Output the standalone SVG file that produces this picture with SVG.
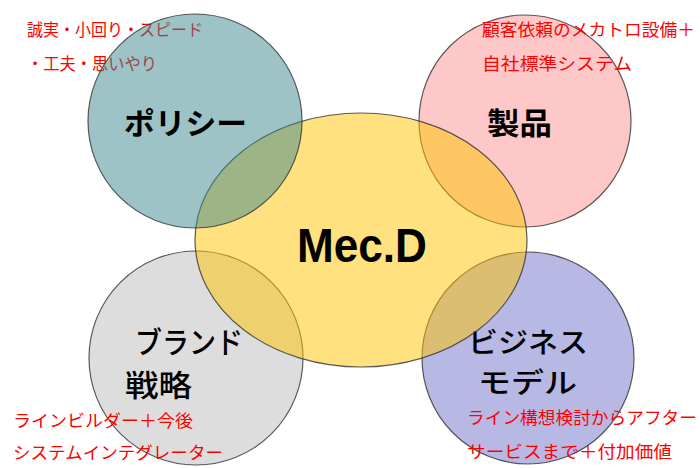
<svg xmlns="http://www.w3.org/2000/svg" width="700" height="468" viewBox="0 0 700 468">
<style>
.c{stroke:#333;stroke-width:1.2;stroke-opacity:0.8}
.note{font-family:"Noto Sans CJK JP",sans-serif;font-size:17px;fill:#FF0000}
.lbl{font-family:"Noto Sans CJK JP",sans-serif;font-size:30px;font-weight:bold;fill:#000}
.lbl2{font-family:"Noto Sans CJK JP",sans-serif;font-size:30px;font-weight:500;fill:#000}
.lbl3{font-family:"Noto Sans CJK JP",sans-serif;font-size:28px;font-weight:500;fill:#000}
.main{font-family:"Liberation Sans",Arial,sans-serif;font-size:49px;font-weight:bold;fill:#000}
</style>
<rect width="700" height="468" fill="#FFFFFF"/>
<g id="note-policy">
<text class="note" x="27" y="36" textLength="176" lengthAdjust="spacingAndGlyphs">誠実・小回り・スピード</text>
<text class="note" x="27" y="70" textLength="130" lengthAdjust="spacingAndGlyphs">・工夫・思いやり</text>
</g>
<g id="node-brand">
<circle class="c" cx="196" cy="358" r="107" fill="#DDDDDD"/>
<text class="lbl2" x="135" y="353" textLength="108" lengthAdjust="spacingAndGlyphs">ブランド</text>
<text class="lbl2" x="125" y="396" textLength="67" lengthAdjust="spacingAndGlyphs">戦略</text>
</g>
<g id="node-business">
<circle class="c" cx="528" cy="358" r="106" fill="#B8B8E5"/>
<text class="lbl3" x="468" y="353" textLength="120" lengthAdjust="spacingAndGlyphs">ビジネス</text>
<text class="lbl3" x="478" y="393" textLength="99" lengthAdjust="spacingAndGlyphs">モデル</text>
</g>
<g id="node-product">
<circle class="c" cx="525" cy="121" r="106" fill="#FFC8C8"/>
<text class="lbl" x="487" y="134" textLength="65" lengthAdjust="spacingAndGlyphs">製品</text>
</g>
<g id="node-mecd">
<ellipse class="c" cx="361" cy="240" rx="166" ry="127" fill="#FFC300" fill-opacity="0.5"/>
<text class="main" x="297" y="262" textLength="130" lengthAdjust="spacingAndGlyphs">Mec.D</text>
</g>
<g id="node-policy">
<circle class="c" cx="195" cy="121" r="107" fill="#3B878D" fill-opacity="0.5"/>
<text class="lbl" x="124" y="134" textLength="123" lengthAdjust="spacingAndGlyphs">ポリシー</text>
</g>
<g id="notes">
<text class="note" x="482" y="36" textLength="213" lengthAdjust="spacingAndGlyphs">顧客依頼のメカトロ設備＋</text>
<text class="note" x="482" y="70" textLength="150" lengthAdjust="spacingAndGlyphs">自社標準システム</text>
<text class="note" x="13" y="427" textLength="180" lengthAdjust="spacingAndGlyphs">ラインビルダー＋今後</text>
<text class="note" x="13" y="459" textLength="210" lengthAdjust="spacingAndGlyphs">システムインテグレーター</text>
<text class="note" x="467" y="424" textLength="230" lengthAdjust="spacingAndGlyphs">ライン構想検討からアフター</text>
<text class="note" x="467" y="458" textLength="205" lengthAdjust="spacingAndGlyphs">サービスまで＋付加価値</text>
</g>
<g id="connectors"/>
</svg>
